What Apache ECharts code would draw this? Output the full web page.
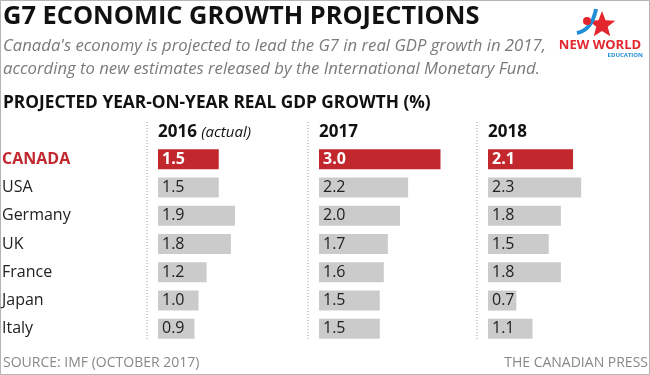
<!DOCTYPE html>
<html>
<head>
<meta charset="utf-8">
<title>G7 economic growth projections</title>
<script src="https://cdn.jsdelivr.net/npm/echarts@6/dist/echarts.min.js"></script>
<style>
  html, body { margin: 0; padding: 0; background: #fff; }
  #chart { width: 650px; height: 375px; }
</style>
</head>
<body>
<div id="chart"></div>
<script>
// ---- data ----
var countries = ['CANADA', 'USA', 'Germany', 'UK', 'France', 'Japan', 'Italy'];
var years = ['2016', '2017', '2018'];
var growth2016 = [1.5, 1.5, 1.9, 1.8, 1.2, 1.0, 0.9];
var growth2017 = [3.0, 2.2, 2.0, 1.7, 1.6, 1.5, 1.5];
var growth2018 = [2.1, 2.3, 1.8, 1.5, 1.8, 0.7, 1.1];
var highlight = 'CANADA';

var RED = '#c1272d';
var GREY = '#cbcbcb';
var FONT = '"Open Sans", sans-serif';

var chart = echarts.init(document.getElementById('chart'));

var gridLefts = [158, 319, 488];
var series = [];
var grids = [], xAxes = [], yAxes = [];
[growth2016, growth2017, growth2018].forEach(function (vals, i) {
    grids.push({ left: gridLefts[i], top: 145, width: 162, height: 198, outerBoundsMode: 'none' });
    xAxes.push({ gridIndex: i, type: 'value', min: 0, max: 4, show: false });
    yAxes.push({
        gridIndex: i,
        type: 'category',
        inverse: true,
        data: countries.map(function (c) {
            return c === highlight
                ? { value: c, textStyle: { color: RED, fontWeight: 'bold', align: 'left' } }
                : c;
        }),
        axisLine: { show: false },
        axisTick: { show: false },
        axisLabel: {
            show: i === 0,
            align: 'left',
            margin: 156,
            fontFamily: FONT,
            fontSize: 16,
            color: '#222'
        }
    });
    series.push({
        type: 'bar',
        xAxisIndex: i,
        yAxisIndex: i,
        barWidth: 20,
        silent: true,
        data: vals.map(function (v, k) {
            var hl = countries[k] === highlight;
            return {
                value: v,
                itemStyle: { color: hl ? RED : GREY },
                label: { color: hl ? '#fff' : '#222', fontWeight: hl ? 'bold' : 'normal' }
            };
        }),
        label: {
            show: true,
            position: 'insideLeft',
            distance: 4,
            fontFamily: FONT,
            fontSize: 16,
            formatter: function (p) { return p.value.toFixed(1); }
        }
    });
});

// dotted column separators + logo bits
var graphics = [];
[147, 308, 477].forEach(function (x) {
    graphics.push({
        type: 'line',
        shape: { x1: x, y1: 122, x2: x, y2: 341 },
        style: { stroke: '#9a9a9a', lineWidth: 1, lineDash: [1, 2] }
    });
});

function starPoints(cx, cy, r1, r2) {
    var pts = [];
    for (var i = 0; i < 10; i++) {
        var a = -Math.PI / 2 + i * Math.PI / 5;
        var r = i % 2 ? r2 : r1;
        pts.push([cx + r * Math.cos(a), cy + r * Math.sin(a)]);
    }
    return pts;
}
graphics.push(
    { type: 'polygon', shape: { points: starPoints(602, 25, 14, 6) }, style: { fill: '#e3262e' } },
    { type: 'bezierCurve', shape: { x1: 577, y1: 33, cpx1: 592, cpy1: 30, x2: 596, y2: 9 },
      style: { stroke: '#1f8fd8', lineWidth: 4, fill: null } },
    { type: 'circle', shape: { cx: 587, cy: 21, r: 4 }, style: { fill: '#e3262e' } },
    { type: 'text', style: { text: 'NEW WORLD', x: 600, y: 45, align: 'center', verticalAlign: 'middle',
      font: 'bold 13px ' + FONT, fill: '#e3262e' } },
    { type: 'text', style: { text: 'EDUCATION', x: 643, y: 55, align: 'right', verticalAlign: 'middle',
      font: 'bold 6px ' + FONT, fill: '#1f8fd8' } },
    { type: 'rect', shape: { x: 0.5, y: 0.5, width: 649, height: 374 },
      style: { fill: null, stroke: '#b5b5b5', lineWidth: 1 } }
);

chart.setOption({
    animation: false,
    title: [
        { text: 'G7 ECONOMIC GROWTH PROJECTIONS', left: 3, top: 4, padding: 0,
          textStyle: { fontFamily: FONT, fontSize: 25.4, fontWeight: 'bold', color: '#111' } },
        { text: "Canada's economy is projected to lead the G7 in real GDP growth in 2017,\naccording to new estimates released by the International Monetary Fund.",
          left: 3, top: 35, padding: 0,
          textStyle: { fontFamily: FONT, fontSize: 16.7, fontStyle: 'italic', fontWeight: 'normal', color: '#7a7a7a', lineHeight: 23 } },
        { text: 'PROJECTED YEAR-ON-YEAR REAL GDP GROWTH (%)', left: 3, top: 95, padding: 0,
          textStyle: { fontFamily: FONT, fontSize: 17.3, fontWeight: 'bold', color: '#111' } },
        { text: years[0] + ' {i|(actual)}', left: 158, top: 124, padding: 0,
          textStyle: { fontFamily: FONT, fontSize: 17, fontWeight: 'bold', color: '#111',
            rich: { i: { fontFamily: FONT, fontSize: 15, fontStyle: 'italic', fontWeight: 'normal', color: '#111' } } } },
        { text: years[1], left: 319, top: 124, padding: 0,
          textStyle: { fontFamily: FONT, fontSize: 17, fontWeight: 'bold', color: '#111' } },
        { text: years[2], left: 488, top: 124, padding: 0,
          textStyle: { fontFamily: FONT, fontSize: 17, fontWeight: 'bold', color: '#111' } },
        { text: 'SOURCE: IMF (OCTOBER 2017)', left: 3, top: 356, padding: 0,
          textStyle: { fontFamily: FONT, fontSize: 14, fontWeight: 'normal', color: '#888' } },
        { text: 'THE CANADIAN PRESS', right: 2, top: 356, padding: 0,
          textStyle: { fontFamily: FONT, fontSize: 14, fontWeight: 'normal', color: '#888' } }
    ],
    grid: grids,
    xAxis: xAxes,
    yAxis: yAxes,
    series: series,
    graphic: graphics
});
</script>
</body>
</html>
